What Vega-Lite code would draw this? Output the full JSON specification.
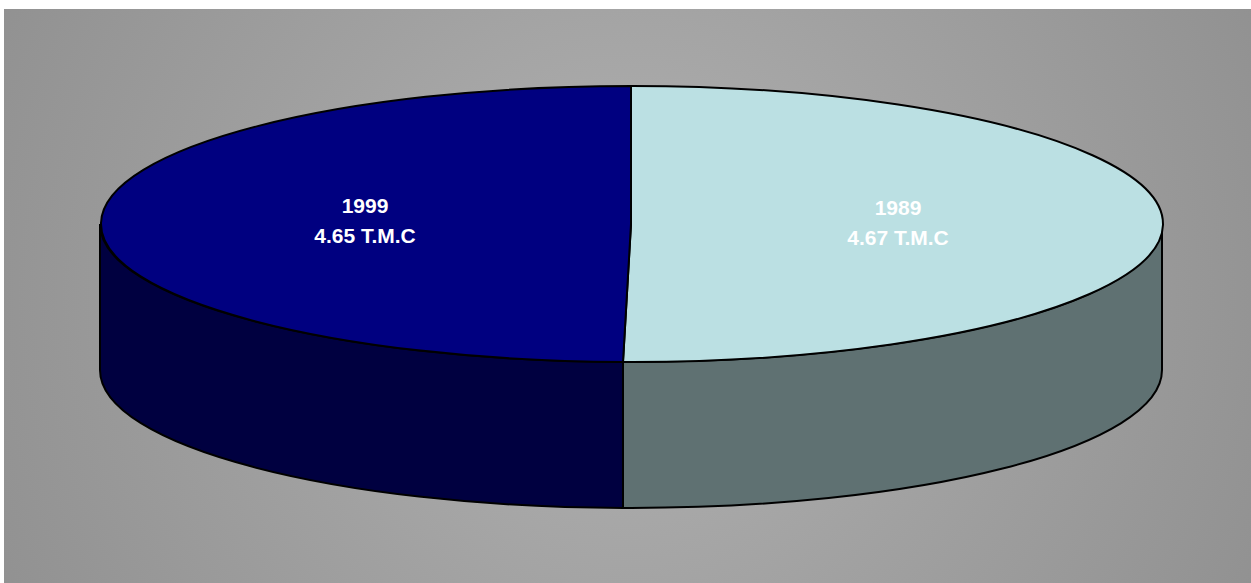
{
  "$schema": "https://vega.github.io/schema/vega-lite/v6.json",
  "width": 1251,
  "height": 583,
  "autosize": {"type": "fit", "contains": "padding"},
  "padding": {"left": 4, "top": 9, "right": 0, "bottom": 0},
  "background": "#ffffff",
  "config": {"view": {"stroke": null}},
  "data": {"values": [
    {"year": "1989", "value": 4.67, "unit": "T.M.C"},
    {"year": "1999", "value": 4.65, "unit": "T.M.C"}
  ]},
  "layer": [
    {
      "data": {"values": [{"panel": "background"}]},
      "mark": {"type": "rect", "fill": {"gradient": "radial", "x1": 0.5, "y1": 0.5, "r1": 0, "x2": 0.5, "y2": 0.5, "r2": 0.56,
        "stops": [{"offset": 0, "color": "#b2b2b2"}, {"offset": 0.5, "color": "#a1a1a1"}, {"offset": 1, "color": "#919191"}]}},
      "encoding": {}
    },
    {
      "mark": {"type": "point", "filled": true, "opacity": 1, "size": 4, "stroke": "#000000", "strokeWidth": 2},
      "encoding": {
        "shape": {"field": "year", "type": "nominal", "legend": null,
          "scale": {"domain": ["1999", "1989"], "range": [
            "M -4.5 65.98 A 531 138 0 0 1 -527.5 -72 L -527.5 74 A 531 138 0 0 0 -4.5 211.98 Z",
            "M 534.5 -72 A 531 138 0 0 1 -4.5 65.98 L -4.5 211.98 A 531 138 0 0 0 534.5 74 Z"
          ]}},
        "fill": {"field": "year", "type": "nominal", "legend": null,
          "scale": {"domain": ["1999", "1989"], "range": ["#000040", "#5f7172"]}}
      }
    },
    {
      "mark": {"type": "point", "filled": true, "opacity": 1, "size": 4, "stroke": "#000000", "strokeWidth": 2},
      "encoding": {
        "shape": {"field": "year", "type": "nominal", "legend": null,
          "scale": {"domain": ["1999", "1989"], "range": [
            "M 3.5 -72 L -4.5 65.98 A 531 138 0 0 1 3.5 -210 Z",
            "M 3.5 -72 L 3.5 -210 A 531 138 0 1 1 -4.5 65.98 Z"
          ]}},
        "color": {"field": "year", "type": "nominal", "legend": null,
          "scale": {"domain": ["1999", "1989"], "range": ["#000080", "#bbe0e3"]}}
      }
    },
    {
      "transform": [{"calculate": "datum.year + '\\n' + format(datum.value, '.2f') + ' ' + datum.unit", "as": "label"}],
      "mark": {"type": "text", "radius": 266.5, "dx": 4, "dy": -88, "align": "center", "baseline": "middle",
        "lineBreak": "\n", "lineHeight": 30, "font": "Liberation Sans", "fontWeight": "bold", "fontSize": 21, "fill": "#ffffff"},
      "encoding": {
        "theta": {"field": "value", "type": "quantitative", "stack": true},
        "text": {"field": "label", "type": "nominal"}
      }
    }
  ],
  "resolve": {"scale": {"shape": "independent", "color": "independent", "fill": "independent", "theta": "independent"}}
}
